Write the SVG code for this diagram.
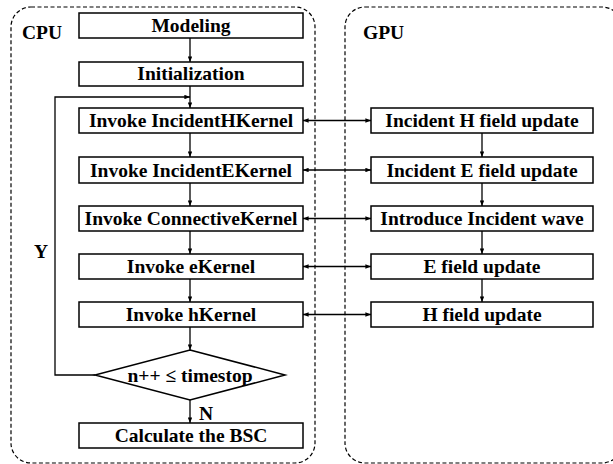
<svg xmlns="http://www.w3.org/2000/svg" width="613" height="464" viewBox="0 0 613 464">
<defs>
<marker id="ah" viewBox="0 0 10 8" refX="10" refY="4" markerWidth="6" markerHeight="4.5" markerUnits="userSpaceOnUse" orient="auto-start-reverse">
<path d="M0,0 L10,4 L0,8 z" fill="#000"/>
</marker>
<style>
.cont{fill:none;stroke:#000;stroke-width:1.2;stroke-dasharray:4 2.5}
.box{fill:#fff;stroke:#000;stroke-width:1.5}
.t{font-family:"Liberation Serif","Times New Roman",serif;font-weight:bold;font-size:19.5px;text-anchor:middle;fill:#000}
.lbl{font-family:"Liberation Serif","Times New Roman",serif;font-weight:bold;font-size:19.5px;fill:#000}
.c{fill:none;stroke:#000;stroke-width:1.3}
.a{marker-end:url(#ah)}
.b{marker-start:url(#ah);marker-end:url(#ah)}
</style>
</defs>
<rect width="613" height="464" fill="#fff"/>
<g id="cpu-container">
<rect class="cont" x="11" y="7" width="304" height="456" rx="20" ry="20"/>
<text class="lbl" x="22" y="39">CPU</text>
</g>
<g id="gpu-container">
<rect class="cont" x="345" y="7" width="277" height="456" rx="20" ry="20"/>
<text class="lbl" x="363" y="39">GPU</text>
</g>
<g id="connectors">
<line class="c a" x1="190" y1="38" x2="190" y2="62"/>
<line class="c a" x1="190" y1="86" x2="190" y2="108"/>
<line class="c a" x1="190" y1="133" x2="190" y2="157"/>
<line class="c a" x1="190" y1="183" x2="190" y2="206"/>
<line class="c a" x1="190" y1="231" x2="190" y2="254"/>
<line class="c a" x1="190" y1="279" x2="190" y2="302"/>
<line class="c a" x1="190" y1="327" x2="190" y2="350"/>
<line class="c a" x1="190" y1="400" x2="190" y2="423"/>
<polyline class="c a" points="95,375 55,375 55,97 190,97"/>
<line class="c a" x1="482" y1="133" x2="482" y2="157"/>
<line class="c a" x1="482" y1="183" x2="482" y2="206"/>
<line class="c a" x1="482" y1="231" x2="482" y2="254"/>
<line class="c a" x1="482" y1="279" x2="482" y2="302"/>
<line class="c b" x1="303" y1="120.5" x2="371" y2="120.5"/>
<line class="c b" x1="303" y1="170" x2="371" y2="170"/>
<line class="c b" x1="303" y1="218.5" x2="371" y2="218.5"/>
<line class="c b" x1="303" y1="266.5" x2="371" y2="266.5"/>
<line class="c b" x1="303" y1="314.5" x2="371" y2="314.5"/>
<text class="lbl" x="34" y="258">Y</text>
<text class="lbl" x="199" y="420">N</text>
</g>
<g id="modeling"><rect class="box" x="79" y="13" width="224" height="25"/><text class="t" x="191" y="32">Modeling</text></g>
<g id="initialization"><rect class="box" x="79" y="62" width="224" height="24"/><text class="t" x="191" y="80">Initialization</text></g>
<g id="invoke-incidenth"><rect class="box" x="79" y="108" width="224" height="25"/><text class="t" x="191" y="127">Invoke IncidentHKernel</text></g>
<g id="invoke-incidente"><rect class="box" x="79" y="157" width="224" height="26"/><text class="t" x="191" y="176.5">Invoke IncidentEKernel</text></g>
<g id="invoke-connective"><rect class="box" x="79" y="206" width="224" height="25"/><text class="t" x="191" y="225">Invoke ConnectiveKernel</text></g>
<g id="invoke-ekernel"><rect class="box" x="79" y="254" width="224" height="25"/><text class="t" x="191" y="273">Invoke eKernel</text></g>
<g id="invoke-hkernel"><rect class="box" x="79" y="302" width="224" height="25"/><text class="t" x="191" y="321">Invoke hKernel</text></g>
<g id="decision"><polygon class="box" points="190,350 285,375 190,400 95,375"/><text class="t" x="190" y="382">n++ ≤ timestop</text></g>
<g id="calculate-bsc"><rect class="box" x="79" y="423" width="224" height="25"/><text class="t" x="191" y="442">Calculate the BSC</text></g>
<g id="incident-h-update"><rect class="box" x="371" y="108" width="222" height="25"/><text class="t" x="482" y="127">Incident H field update</text></g>
<g id="incident-e-update"><rect class="box" x="371" y="157" width="222" height="26"/><text class="t" x="482" y="176.5">Incident E field update</text></g>
<g id="introduce-wave"><rect class="box" x="371" y="206" width="222" height="25"/><text class="t" x="482" y="225">Introduce Incident wave</text></g>
<g id="e-update"><rect class="box" x="371" y="254" width="222" height="25"/><text class="t" x="482" y="273">E field update</text></g>
<g id="h-update"><rect class="box" x="371" y="302" width="222" height="25"/><text class="t" x="482" y="321">H field update</text></g>
</svg>
